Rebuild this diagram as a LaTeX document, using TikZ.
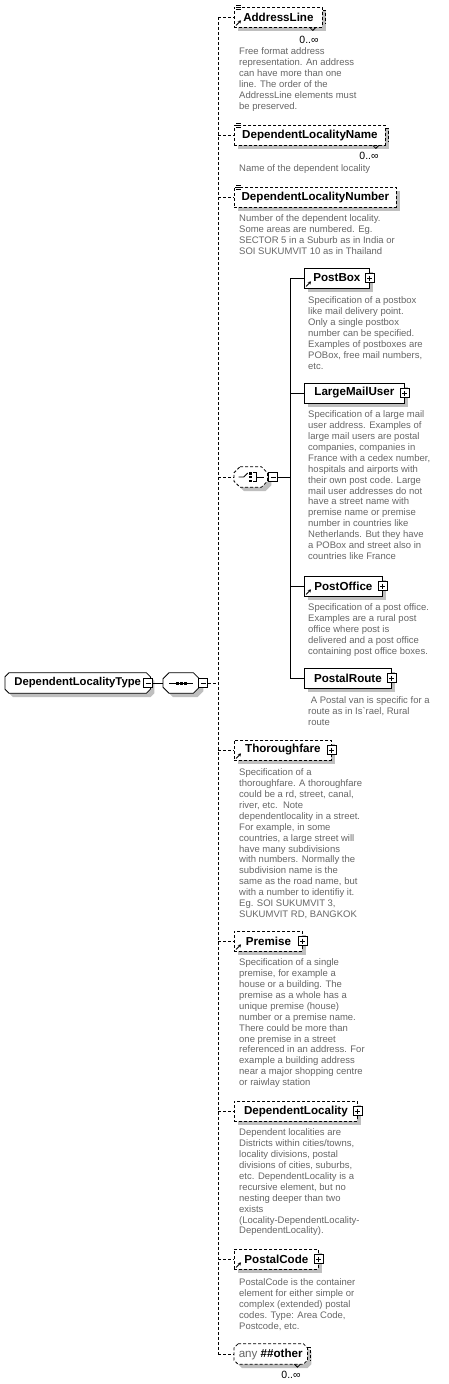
\documentclass[tikz,border=0pt]{standalone}
\usepackage{fontspec}
\setmainfont{Liberation Sans}
\newfontfamily\plainfont{Liberation Sans}
\usetikzlibrary{calc,shadows,backgrounds,arrows.meta}
\def\titlefont{\fontsize{11.6}{13}\selectfont\bfseries}
\def\octagon[#1](#2)(#3){\draw[#1] ($(#2.north west)+(#3,0)$) -- ($(#2.north east)+(-#3,0)$) -- ($(#2.north east)+(0,#3)$) -- ($(#2.south east)+(0,-#3)$) -- ($(#2.south east)+(-#3,0)$) -- ($(#2.south west)+(#3,0)$) -- ($(#2.south west)+(0,-#3)$) -- ($(#2.north west)+(0,#3)$) -- cycle;}
\def\refarrow(#1){\draw[line width=0.9pt, -{Stealth[length=3pt,width=3.5pt]}] ($(#1.south west)+(2,-2)$) -- ++(5pt,5pt);}
\def\simpleicon(#1){\foreach \d in {0,2,4} \draw[line width=0.8pt] ($(#1.north west)+(2,\d-1)$) -- ++(5pt,0);}
\def\stackbox(#1){\draw[line width=0.8pt, dash pattern=on 3pt off 2pt] ($(#1.north east)+(0,4)$) -- ++(3pt,0) -- ($(#1.south east)+(3,-3)$); \draw[line width=0.8pt] ($(#1.south east)+(-13,0)$) -- ++(3pt,-3pt) -- ++(3pt,3pt);}
\tikzset{
  grey shadow/.style={drop shadow={shadow xshift=4pt, shadow yshift=-4pt, fill=black!25, opacity=1}},
  dashline/.style={dash pattern=on 3pt off 2pt},
  elem/.style={draw, fill=white, line width=0.8pt, minimum height=20pt, inner sep=0pt, anchor=west, font=\titlefont, grey shadow},
  compositor/.style={minimum height=20pt, inner sep=0pt, anchor=west},
  doc/.style={anchor=north west, inner sep=0pt, align=left, text=black!60, font=\fontsize{9.5}{10.9}\selectfont},
  mult/.style={inner sep=0pt, font=\fontsize{10.5}{12}\selectfont},
  pmbox/.style={draw, fill=white, minimum size=9pt, inner sep=0pt, line width=0.8pt},
  minusbox/.style={pmbox, path picture={\draw ($(path picture bounding box.west)+(2,0)$) -- ($(path picture bounding box.east)+(-2,0)$);}},
  plusbox/.style={pmbox, path picture={\draw ($(path picture bounding box.west)+(2,0)$) -- ($(path picture bounding box.east)+(-2,0)$) ($(path picture bounding box.north)+(0,2)$) -- ($(path picture bounding box.south)+(0,-2)$);}},
}
\begin{document}
\begin{tikzpicture}[x=1pt, y=-1pt]
			%%%%% START %%%%%
			\useasboundingbox (0,0) rectangle (449,1384);
			
			\node[compositor, minimum width=145pt, font=\fontsize{11.3}{13}\selectfont\bfseries] (root) at (5,683) {DependentLocalityType\hspace{8pt}};
			\node[compositor, minimum width=36pt] (seq) at (163,683) {};
			\coordinate (spine) at (218,683);
			
			\node[compositor, minimum width=33pt] (choice) at (234,477) {};
			\coordinate (branch) at (290,477);
			
			\node[compositor, minimum width=73pt, font=\titlefont] (anyother) at (234,1354) {\textcolor{black!60}{\mdseries any} \#\#other};
			
			\begin{scope}[on background layer]
			\octagon[draw, fill=white, line width=0.8pt, grey shadow](root)(4)
			\octagon[draw, fill=white, line width=0.8pt, grey shadow](seq)(6)
			\octagon[draw, fill=white, line width=0.8pt, dashline, grey shadow](choice)(6)
			\octagon[draw, fill=white, line width=0.8pt, dashline, grey shadow](anyother)(4)
			\end{scope}
			
			\node[elem, dashline, minimum width=88pt] (addressline) at (234,17) {AddressLine};
			\node[elem, dashline, minimum width=151pt] (deplocname) at (234,135) {DependentLocalityName};
			\node[elem, dashline, minimum width=162pt] (deplocnumber) at (234,197) {DependentLocalityNumber};
			\node[elem, minimum width=65pt] (postbox) at (304,278) {PostBox};
			\node[elem, minimum width=100pt] (largemailuser) at (304,393) {LargeMailUser};
			\node[elem, minimum width=78pt] (postoffice) at (304,586) {PostOffice};
			\node[elem, minimum width=87pt] (postalroute) at (304,678) {PostalRoute};
			\node[elem, dashline, minimum width=97pt] (thoroughfare) at (234,750) {Thoroughfare};
			\node[elem, dashline, minimum width=68pt] (premise) at (234,941) {Premise};
			\node[elem, dashline, minimum width=123pt] (deplocality) at (234,1111) {DependentLocality};
			\node[elem, dashline, minimum width=84pt] (postalcode) at (234,1259) {PostalCode};
			
			% plus and minus boxes
			\node[minusbox] (rootpm) at (148,683) {};
			\node[minusbox] (seqpm) at (203,683) {};
			\node[minusbox] (choicepm) at (273,477) {};
			\node[plusbox] (postboxpm) at (postbox.east) {};
			\node[plusbox] (largemailuserpm) at (largemailuser.east) {};
			\node[plusbox] (postofficepm) at (postoffice.east) {};
			\node[plusbox] (postalroutepm) at (postalroute.east) {};
			\node[plusbox] (thoroughfarepm) at (thoroughfare.east) {};
			\node[plusbox] (premisepm) at (premise.east) {};
			\node[plusbox] (deplocalitypm) at (deplocality.east) {};
			\node[plusbox] (postalcodepm) at (postalcode.east) {};
			
			% sequence and choice signs
			\draw[line width=0.8pt] ($(seq.west)+(6,0)$) -- ($(seq.east)+(-6,0)$);
			\fill ($(seq.center)+(-5.5,-1.5)$) rectangle ++(3pt,-3pt);
			\fill ($(seq.center)+(-1.5,-1.5)$) rectangle ++(3pt,-3pt);
			\fill ($(seq.center)+(2.5,-1.5)$) rectangle ++(3pt,-3pt);
			
			\draw[line width=0.8pt] ($(choice.center)+(-12,0)$) -- ($(choice.center)+(-7,0)$) -- ($(choice.center)+(-3,-4)$);
			\fill ($(choice.center)+(-1.5,-5)$) rectangle ++(2.5pt,-2.5pt);
			\fill ($(choice.center)+(-1.5,-1.25)$) rectangle ++(2.5pt,-2.5pt);
			\fill ($(choice.center)+(-1.5,2.5)$) rectangle ++(2.5pt,-2.5pt);
			\draw[line width=0.8pt] ($(choice.center)+(2.5,-4.5)$) -- ($(choice.center)+(6,-4.5)$) -- ($(choice.center)+(6,4.5)$) -- ($(choice.center)+(2.5,4.5)$);
			\draw[line width=0.8pt] ($(choice.center)+(6,0)$) -- ($(choice.center)+(13,0)$);
			
			% connectors
			\draw[line width=0.8pt] (rootpm) -- (seq);
			\draw[line width=0.8pt, dashline] (seqpm) -- (spine);
			\draw[line width=0.8pt, dashline] (addressline.west -| spine) -- (anyother.west -| spine);
			\draw[line width=0.8pt, dashline] (addressline.west -| spine) -- (addressline);
			\draw[line width=0.8pt, dashline] (deplocname.west -| spine) -- (deplocname);
			\draw[line width=0.8pt, dashline] (deplocnumber.west -| spine) -- (deplocnumber);
			\draw[line width=0.8pt, dashline] (choice.west -| spine) -- (choice.west);
			\draw[line width=0.8pt, dashline] (thoroughfare.west -| spine) -- (thoroughfare);
			\draw[line width=0.8pt, dashline] (premise.west -| spine) -- (premise);
			\draw[line width=0.8pt, dashline] (deplocality.west -| spine) -- (deplocality);
			\draw[line width=0.8pt, dashline] (postalcode.west -| spine) -- (postalcode);
			\draw[line width=0.8pt, dashline] (anyother.west -| spine) -- (anyother.west);
			
			\draw[line width=0.8pt] (choicepm) -- (branch);
			\draw[line width=0.8pt] (postbox.west -| branch) -- (postalroute.west -| branch);
			\draw[line width=0.8pt] (postbox.west -| branch) -- (postbox);
			\draw[line width=0.8pt] (largemailuser.west -| branch) -- (largemailuser);
			\draw[line width=0.8pt] (postoffice.west -| branch) -- (postoffice);
			\draw[line width=0.8pt] (postalroute.west -| branch) -- (postalroute);
			
			% icons and occurrences
			\simpleicon(addressline)
			\refarrow(addressline)
			\stackbox(addressline)
			\node[mult] (addresslinemult) at (309,40) {0..∞};
			\simpleicon(deplocname)
			\stackbox(deplocname)
			\node[mult] (deplocnamemult) at (369,156) {0..∞};
			\simpleicon(deplocnumber)
			\refarrow(postbox)
			\refarrow(postoffice)
			\refarrow(thoroughfare)
			\refarrow(premise)
			\refarrow(postalcode)
			\stackbox(anyother)
			\node[mult] (anyothermult) at (291,1375) {0..∞};
			
			% documentation
			\node[doc] (addresslinedoc) at (239,47.7) {Free format address\\representation. An address\\can have more than one\\line. The order of the\\AddressLine elements must\\be preserved.};
			\node[doc] (deplocnamedoc) at (239,164.7) {Name of the dependent locality};
			\node[doc] (deplocnumberdoc) at (239,214.7) {Number of the dependent locality.\\Some areas are numbered. Eg.\\SECTOR 5 in a Suburb as in India or\\SOI SUKUMVIT 10 as in Thailand};
			\node[doc] (postboxdoc) at (308,296.7) {Specification of a postbox\\like mail delivery point.\\Only a single postbox\\number can be specified.\\Examples of postboxes are\\POBox, free mail numbers,\\etc.};
			\node[doc] (largemailuserdoc) at (308,410.7) {Specification of a large mail\\user address. Examples of\\large mail users are postal\\companies, companies in\\France with a cedex number,\\hospitals and airports with\\their own post code. Large\\mail user addresses do not\\have a street name with\\premise name or premise\\number in countries like\\Netherlands. But they have\\a POBox and street also in\\countries like France};
			\node[doc] (postofficedoc) at (308,603.7) {Specification of a post office.\\Examples are a rural post\\office where post is\\delivered and a post office\\containing post office boxes.};
			\node[doc] (postalroutedoc) at (308,696.7) {\ A Postal van is specific for a\\route as in Is{\plainfont `}rael, Rural\\route};
			\node[doc] (thoroughfaredoc) at (239,768.7) {Specification of a\\thoroughfare. A thoroughfare\\could be a rd, street, canal,\\river, etc.\ \ Note\\dependentlocality in a street.\\For example, in some\\countries, a large street will\\have many subdivisions\\with numbers. Normally the\\subdivision name is the\\same as the road name, but\\with a number to identifiy it.\\Eg. SOI SUKUMVIT 3,\\SUKUMVIT RD, BANGKOK};
			\node[doc] (premisedoc) at (239,958.7) {Specification of a single\\premise, for example a\\house or a building. The\\premise as a whole has a\\unique premise (house)\\number or a premise name.\\There could be more than\\one premise in a street\\referenced in an address. For\\example a building address\\near a major shopping centre\\or raiwlay station};
			\node[doc] (deplocalitydoc) at (239,1128.7) {Dependent localities are\\Districts within cities/towns,\\locality divisions, postal\\divisions of cities, suburbs,\\etc. DependentLocality is a\\recursive element, but no\\nesting deeper than two\\exists\\(Locality-DependentLocality-\\DependentLocality).};
			\node[doc] (postalcodedoc) at (239,1278.7) {PostalCode is the container\\element for either simple or\\complex (extended) postal\\codes. Type: Area Code,\\Postcode, etc.};
			
			%%%%% END %%%%%
\end{tikzpicture}
\end{document}
